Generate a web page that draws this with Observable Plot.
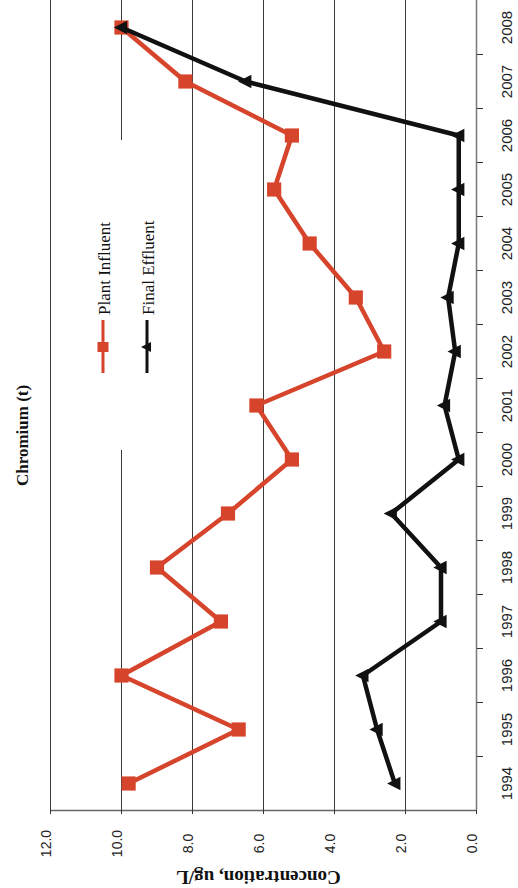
<!DOCTYPE html>
<html><head><meta charset="utf-8">
<script src="https://cdn.jsdelivr.net/npm/d3@7"></script>
<script src="https://cdn.jsdelivr.net/npm/@observablehq/plot@0.6"></script>
<style>
html,body{margin:0;padding:0;background:#fff;}
#chart{position:relative;width:518px;height:888px;overflow:hidden;background:#fff;}
#legend{position:absolute;left:92px;top:140px;}
</style></head><body><div id="chart"></div>
<script>
const years = [1994,1995,1996,1997,1998,1999,2000,2001,2002,2003,2004,2005,2006,2007,2008];
const plantInfluent = [9.8,6.7,10.0,7.2,9.0,7.0,5.2,6.2,2.6,3.4,4.7,5.7,5.2,8.2,10.0];
const finalEffluent = [2.3,2.8,3.2,1.0,1.0,2.4,0.5,0.9,0.6,0.8,0.5,0.5,0.5,6.5,10.0];
const valueTicks = [0,2,4,6,8,10,12];
const seriesNames = ["Plant Influent","Final Effluent"];
const seriesColors = ["#d6442c","#111111"];
const titleText = "Chromium (t)";
const axisTitle = "Concentration, ug/L";

const yearBounds = years.slice(0,-1).map(y => y + 0.5);
const plantRows = years.map((year,i) => ({year, value: plantInfluent[i], series: seriesNames[0]}));
const effRows = years.map((year,i) => ({year, value: finalEffluent[i], series: seriesNames[1]}));

const leftTriangle = {draw(context, size){
  const r = Math.sqrt(size/Math.PI);
  context.moveTo(-r*1.1, 0);
  context.lineTo(r*0.8, -r*0.95);
  context.lineTo(r*0.8, r*0.95);
  context.closePath();
}};
const serif = "Liberation Serif, Times New Roman, serif";

const chart = Plot.plot({
  width: 518, height: 888,
  marginTop: 0, marginBottom: 78, marginLeft: 50, marginRight: 42,
  style: {background: "#fff", fontFamily: "Liberation Sans, Arial, sans-serif", fontSize: "14px", color: "#333"},
  x: {domain: [0, 12], reverse: true, axis: null},
  y: {domain: [years[0] - 0.5, years[years.length-1] + 0.5], axis: null},
  marks: [
    Plot.gridX(valueTicks.slice(1), {stroke: "#3a3a3a", strokeOpacity: 1, strokeWidth: 1}),
    Plot.ruleY([years[0] - 0.5], {stroke: "#666", strokeWidth: 1.5}),
    Plot.ruleX([0], {stroke: "#777", strokeWidth: 1.5}),
    Plot.axisX({anchor: "bottom", ticks: valueTicks, tickSize: 4, tickFormat: () => "", label: null}),
    Plot.axisY({anchor: "right", ticks: yearBounds, tickSize: 6, tickFormat: () => "", label: null}),
    Plot.text(valueTicks, {x: d => d, frameAnchor: "bottom", textAnchor: "middle", dy: 33, rotate: -90, text: d => d.toFixed(1), fontSize: 14, fill: "#222"}),
    Plot.text(years, {y: d => d, frameAnchor: "right", textAnchor: "middle", dx: 31, rotate: -90, text: d => String(d), fontSize: 15, fill: "#222"}),
    Plot.line(plantRows, {x: "value", y: "year", stroke: seriesColors[0], strokeWidth: 4.5}),
    Plot.dot(plantRows, {x: "value", y: "year", symbol: "square", r: 8, fill: seriesColors[0], stroke: "none"}),
    Plot.line(effRows, {x: "value", y: "year", stroke: seriesColors[1], strokeWidth: 4.5}),
    Plot.dot(effRows, {x: "value", y: "year", symbol: leftTriangle, r: 7, fill: seriesColors[1], stroke: "none"}),
    Plot.text([titleText], {frameAnchor: "left", textAnchor: "middle", dx: -28, dy: 30, rotate: -90, fontSize: 17, fontWeight: "bold", fontFamily: serif, fill: "#111"}),
    Plot.text([axisTitle], {frameAnchor: "bottom", textAnchor: "middle", dx: -5, dy: 60, rotate: 180, fontSize: 19, fontWeight: "bold", fontFamily: serif, fill: "#111"})
  ]
});
document.getElementById("chart").appendChild(chart);

// legend (white box over the plot area, rotated like the chart)
const lg = d3.select("#chart").append("svg").attr("id", "legend").attr("width", 72).attr("height", 310);
lg.append("rect").attr("width", 72).attr("height", 310).attr("fill", "#fff");
const entryX = [11, 55];
seriesNames.forEach((name, i) => {
  const g = lg.append("g");
  g.append("line").attr("x1", entryX[i]).attr("x2", entryX[i]).attr("y1", 180).attr("y2", 233)
    .attr("stroke", seriesColors[i]).attr("stroke-width", 3);
  if (i === 0) {
    g.append("rect").attr("x", entryX[i]-5.5).attr("y", 202).attr("width", 11).attr("height", 10).attr("fill", seriesColors[i]);
  } else {
    g.append("path").attr("transform", `translate(${entryX[i]},207)`)
      .attr("d", "M-6,0L4,-5L4,5Z").attr("fill", seriesColors[i]);
  }
  g.append("text").attr("transform", `translate(${entryX[i]+1},175) rotate(-90)`)
    .attr("dominant-baseline", "central").attr("font-family", serif).attr("font-size", 17)
    .attr("fill", "#111").text(name);
});
</script>
</body></html>
